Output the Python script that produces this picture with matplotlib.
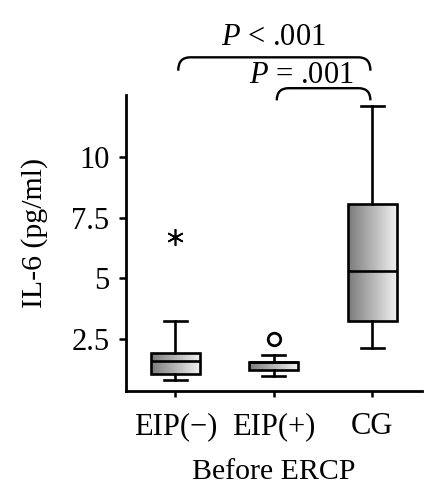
import numpy as np
import matplotlib
matplotlib.use("Agg")
import matplotlib.pyplot as plt
from matplotlib.path import Path
from matplotlib.patches import PathPatch

# summary statistics
groups = ["EIP(\u2212)", "EIP(+)", "CG"]
whislo = [0.84, 1.00, 2.12]
q1 = [1.06, 1.22, 3.25]
med = [1.59, 1.57, 5.31]
q3 = [1.95, 1.58, 8.05]
whishi = [3.27, 1.84, 12.1]
outliers = [[6.7], [2.5], []]
outlier_markers = [(6, 2, 0), "o", "o"]

y_ticks = [2.5, 5, 7.5, 10]
y_tick_labels = ["2.5", "5", "7.5", "10"]

# significance brackets: (from group, to group, label)
brackets = [(1, 3, "$P$ < .001"), (2, 3, "$P$ = .001")]

plt.rcParams["font.family"] = ["Liberation Serif", "DejaVu Serif"]
plt.rcParams["mathtext.fontset"] = "custom"
plt.rcParams["mathtext.it"] = "Liberation Serif:italic"
plt.rcParams["mathtext.rm"] = "Liberation Serif"

fig = plt.figure(figsize=(4.42, 5.0), dpi=100)
ax = fig.add_axes([0.285, 0.218, 0.669, 0.592])

positions = [1, 2, 3]
stats = []
for i, g in enumerate(groups):
    stats.append(dict(label=g, whislo=whislo[i], q1=q1[i], med=med[i],
                      q3=q3[i], whishi=whishi[i], fliers=outliers[i]))

lw = 1.9
bp = ax.bxp(stats, positions=positions, widths=0.5, patch_artist=True,
            capwidths=0.23,
            boxprops=dict(facecolor="none", edgecolor="black", linewidth=lw),
            whiskerprops=dict(color="black", linewidth=lw),
            capprops=dict(color="black", linewidth=lw),
            medianprops=dict(color="black", linewidth=lw),
            flierprops=dict(markerfacecolor="none", markeredgecolor="black",
                            markersize=9, markeredgewidth=2.0))

for fl, m in zip(bp["fliers"], outlier_markers):
    fl.set_marker(m)
    if m != "o":
        fl.set_markersize(12)
        fl.set_markeredgewidth(1.2)

# gradient fill inside each box
grad = np.linspace(0.48, 0.95, 256).reshape(1, -1)
for box, p, lo, hi in zip(bp["boxes"], positions, q1, q3):
    im = ax.imshow(grad, cmap="gray", vmin=0, vmax=1, aspect="auto",
                   extent=(p - 0.25, p + 0.25, lo, hi), zorder=1.5,
                   interpolation="bilinear")
    im.set_clip_path(box)
    box.set_zorder(2)
ax.set_xlim(0.5, 3.5)
ax.set_ylim(0.37, 12.55)

ax.set_xticks(positions)
ax.set_xticklabels(groups)
ax.set_yticks(y_ticks)
ax.set_yticklabels(y_tick_labels)
ax.tick_params(axis="both", labelsize=22, width=1.8, direction="out")
ax.tick_params(axis="y", length=5, pad=7)
ax.tick_params(axis="x", length=4, pad=11)
for s in ["top", "right"]:
    ax.spines[s].set_visible(False)
for s in ["left", "bottom"]:
    ax.spines[s].set_linewidth(2.0)

ax.set_ylabel("IL-6 (pg/ml)", fontsize=21.5)
ax.yaxis.set_label_coords(-0.262, 0.535)
ax.set_xlabel("Before ERCP", fontsize=21.5, labelpad=13)


def draw_bracket(x0, x1, y_top, drop, label, text_x, ha, text_dy):
    rx = 0.12
    verts = [(x0, y_top - drop), (x0, y_top), (x0 + rx, y_top),
             (x1 - rx, y_top), (x1, y_top), (x1, y_top - drop)]
    codes = [Path.MOVETO, Path.CURVE3, Path.CURVE3,
             Path.LINETO, Path.CURVE3, Path.CURVE3]
    ax.add_patch(PathPatch(Path(verts, codes), facecolor="none",
                           edgecolor="black", linewidth=1.7, clip_on=False))
    ax.text(text_x, y_top + text_dy, label, ha=ha, va="baseline",
            fontsize=22, clip_on=False)


(a0, b0, t0), (a1, b1, t1) = brackets
draw_bracket(a0 + 0.03, b0 - 0.02, 14.1, 0.55, t0, (a0 + b0) / 2, "center", 0.5)
draw_bracket(a1 + 0.03, b1 - 0.02, 12.83, 0.5, t1, b1 - 0.19, "right", 0.21)

fig.savefig("out.png", dpi=100)
